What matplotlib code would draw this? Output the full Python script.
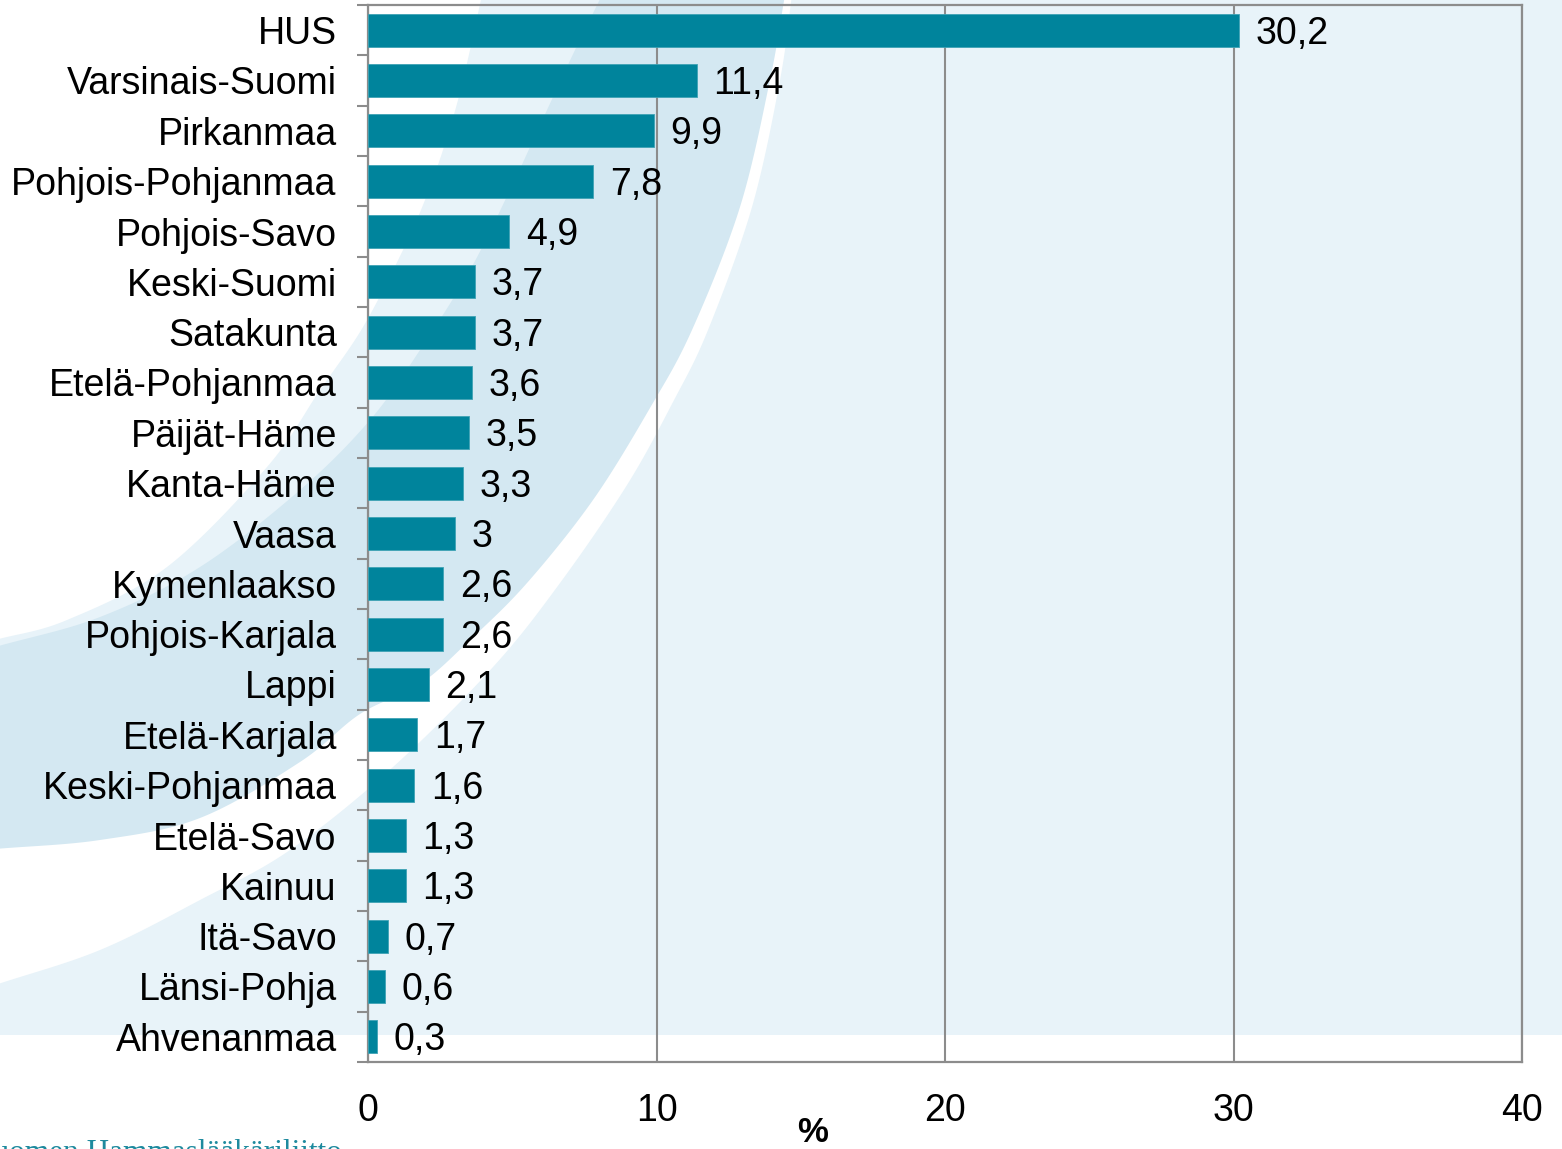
import numpy as np
import matplotlib
matplotlib.use("Agg")
import matplotlib.pyplot as plt
from matplotlib.ticker import FixedLocator

# ---------------- data ----------------
regions = ["HUS", "Varsinais-Suomi", "Pirkanmaa", "Pohjois-Pohjanmaa", "Pohjois-Savo",
           "Keski-Suomi", "Satakunta", "Etelä-Pohjanmaa", "Päijät-Häme", "Kanta-Häme",
           "Vaasa", "Kymenlaakso", "Pohjois-Karjala", "Lappi", "Etelä-Karjala",
           "Keski-Pohjanmaa", "Etelä-Savo", "Kainuu", "Itä-Savo", "Länsi-Pohja", "Ahvenanmaa"]
values = [30.2, 11.4, 9.9, 7.8, 4.9, 3.7, 3.7, 3.6, 3.5, 3.3, 3.0, 2.6, 2.6, 2.1,
          1.7, 1.6, 1.3, 1.3, 0.7, 0.6, 0.3]
x_ticks = [0, 10, 20, 30, 40]
x_label = "%"
footer = "Suomen Hammaslääkäriliitto"

# ---------------- style ----------------
W, H = 1562, 1149
BAR = "#00849C"
LIGHT = "#E8F3F9"
DARK = "#D4E8F2"
GRAY = "#8C8C8C"
FONT = "Liberation Sans"
FS = 27
plt.rcParams["font.family"] = [FONT, "DejaVu Sans"]

fig = plt.figure(figsize=(W / 100, H / 100), dpi=100)
fig.patch.set_facecolor("white")

# ---------------- decorative background swooshes ----------------
def catmull(pts, n=24):
    P = np.array(pts, float)
    P = np.vstack([2 * P[0] - P[1], P, 2 * P[-1] - P[-2]])
    out = []
    t = np.linspace(0, 1, n, endpoint=False)[:, None]
    for i in range(1, len(P) - 2):
        p0, p1, p2, p3 = P[i - 1], P[i], P[i + 1], P[i + 2]
        out.append(0.5 * ((2 * p1) + (-p0 + p2) * t + (2 * p0 - 5 * p1 + 4 * p2 - p3) * t ** 2
                          + (-p0 + 3 * p1 - 3 * p2 + p3) * t ** 3))
    out.append(P[-2][None])
    return np.vstack(out)

curve_A = [(-5, 640), (67, 620), (167, 567), (267, 467), (320, 390), (363, 327), (403, 250),
           (425, 200), (443, 150), (458, 100), (470, 50), (482, -5)]
curve_B = [(-5, 647), (100, 617), (200, 567), (300, 490), (370, 420), (420, 350), (470, 270),
           (510, 190), (547, 110), (575, 50), (602, -5)]
curve_C = [(-5, 849), (100, 840), (200, 818), (300, 762), (360, 714), (420, 684), (470, 640),
           (527, 583), (593, 500), (650, 408), (692, 330), (740, 207), (770, 80), (785, -5)]
curve_D = [(-5, 985), (100, 950), (200, 900), (290, 850), (393, 767), (493, 667), (560, 583),
           (627, 485), (673, 402), (708, 330), (752, 207), (780, 80), (792, -5)]

bg = fig.add_axes([0, 0, 1, 1], zorder=0)
bg.set_xlim(0, W)
bg.set_ylim(H, 0)
bg.axis("off")
BOTTOM = 1035
for pts, col in [(curve_A, LIGHT), (curve_B, DARK), (curve_C, "white"), (curve_D, LIGHT)]:
    c = catmull(pts)
    poly = np.vstack([c, [(W + 10, -10), (W + 10, BOTTOM), (-10, BOTTOM)]])
    bg.fill(poly[:, 0], poly[:, 1], color=col, lw=0)

# ---------------- main chart ----------------
left, right, top, bottom = 368, 1522, 5, 1062
ax = fig.add_axes([left / W, 1 - bottom / H, (right - left) / W, (bottom - top) / H], zorder=1)
ax.set_facecolor("none")

n = len(regions)
ypos = np.arange(n)
ax.barh(ypos, values, height=0.66, color=BAR, edgecolor="#3FA3B5", linewidth=0.6, zorder=3)
ax.set_ylim(n - 0.5, -0.5)
ax.set_xlim(x_ticks[0], x_ticks[-1])

for y, v in zip(ypos, values):
    lab = str(int(v)) if float(v).is_integer() else f"{v:.1f}".replace(".", ",")
    ax.annotate(lab, xy=(v, y), xytext=(12, -2.5), textcoords="offset points",
                va="center", ha="left", fontsize=FS, color="black", zorder=4)

ax.set_yticks(ypos)
ax.set_yticklabels(regions, fontsize=FS)
ax.yaxis.set_minor_locator(FixedLocator(np.arange(n + 1) - 0.5))
ax.tick_params(axis="y", which="major", length=0, pad=22.5)
ax.tick_params(axis="y", which="minor", length=8, width=1.5, color=GRAY)

ax.set_xticks(x_ticks)
ax.set_xticklabels([str(t) for t in x_ticks], fontsize=FS)
ax.tick_params(axis="x", which="major", length=0, pad=22)

ax.grid(axis="x", color=GRAY, linewidth=1.5, zorder=1)
ax.set_axisbelow(True)
for s in ax.spines.values():
    s.set_color(GRAY)
    s.set_linewidth(1.6)

fig.text(813 / W, 1 - 1133 / H, x_label, ha="center", va="center",
         fontsize=25, fontweight="bold", color="black")
fig.text(342 / W, 1 - 1139 / H, footer, ha="right", va="top",
         fontsize=22.5, family=["Liberation Serif", "DejaVu Serif"], color="#1E8A9E")

fig.savefig("out.png", dpi=100, facecolor="white")
